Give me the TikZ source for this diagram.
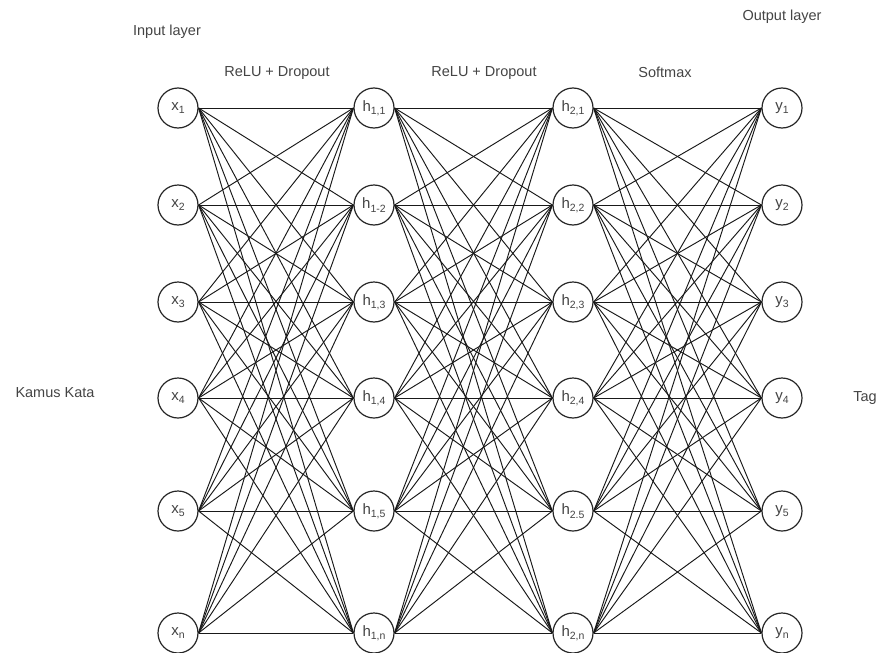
\documentclass[tikz,border=0pt]{standalone}
\usepackage{fontspec}
\setmainfont{Liberation Sans}
\definecolor{txt}{HTML}{444444}
\newcommand\lsub[1]{\raisebox{-3.5pt}{\fontsize{10.5}{10.5}\selectfont #1}}
\begin{document}
\begin{tikzpicture}[x=1pt,y=-1pt,
  neuron/.style={circle,draw=black!85,line width=1.2pt,fill=white,minimum size=40pt,inner sep=0pt,text=txt,font=\fontsize{15}{17}\selectfont},
  lbl/.style={text=txt,font=\fontsize{14.5}{17}\selectfont,inner sep=0pt},
  conn/.style={draw=black!90,line width=0.95pt}]
\useasboundingbox (0,0) rectangle (881,653);
\def\colA{178}\def\colB{374}\def\colC{573}\def\colD{782}
\foreach \r/\yy in {1/108,2/205,3/302,4/398,5/511,6/633}{
  \coordinate (pA\r) at (\colA,\yy);
  \coordinate (pB\r) at (\colB,\yy);
  \coordinate (pC\r) at (\colC,\yy);
  \coordinate (pD\r) at (\colD,\yy);
}
\node[neuron] (x1) at (pA1) {x\lsub{1}};
\node[neuron] (x2) at (pA2) {x\lsub{2}};
\node[neuron] (x3) at (pA3) {x\lsub{3}};
\node[neuron] (x4) at (pA4) {x\lsub{4}};
\node[neuron] (x5) at (pA5) {x\lsub{5}};
\node[neuron] (x6) at (pA6) {x\lsub{n}};
\node[neuron] (a1) at (pB1) {h\lsub{1,1}};
\node[neuron] (a2) at (pB2) {h\lsub{1-2}};
\node[neuron] (a3) at (pB3) {h\lsub{1,3}};
\node[neuron] (a4) at (pB4) {h\lsub{1,4}};
\node[neuron] (a5) at (pB5) {h\lsub{1,5}};
\node[neuron] (a6) at (pB6) {h\lsub{1,n}};
\node[neuron] (b1) at (pC1) {h\lsub{2,1}};
\node[neuron] (b2) at (pC2) {h\lsub{2,2}};
\node[neuron] (b3) at (pC3) {h\lsub{2,3}};
\node[neuron] (b4) at (pC4) {h\lsub{2,4}};
\node[neuron] (b5) at (pC5) {h\lsub{2.5}};
\node[neuron] (b6) at (pC6) {h\lsub{2,n}};
\node[neuron] (y1) at (pD1) {y\lsub{1}};
\node[neuron] (y2) at (pD2) {y\lsub{2}};
\node[neuron] (y3) at (pD3) {y\lsub{3}};
\node[neuron] (y4) at (pD4) {y\lsub{4}};
\node[neuron] (y5) at (pD5) {y\lsub{5}};
\node[neuron] (y6) at (pD6) {y\lsub{n}};
\foreach \i in {1,...,6}{
  \foreach \j in {1,...,6}{
    \draw[conn] (x\i.east) -- (a\j.west);
    \draw[conn] (a\i.east) -- (b\j.west);
    \draw[conn] (b\i.east) -- (y\j.west);
  }
}
\node[lbl] (tin) at (167,32) {Input layer};
\node[lbl] (tout) at (782,17) {Output layer};
\node[lbl] (tr1) at (277,73) {ReLU + Dropout};
\node[lbl] (tr2) at (484,73) {ReLU + Dropout};
\node[lbl] (tsm) at (665,72) {Softmax};
\node[lbl] (tkk) at (55,393) {Kamus Kata};
\node[lbl] (ttag) at (865,398) {Tag};
\end{tikzpicture}
\end{document}
